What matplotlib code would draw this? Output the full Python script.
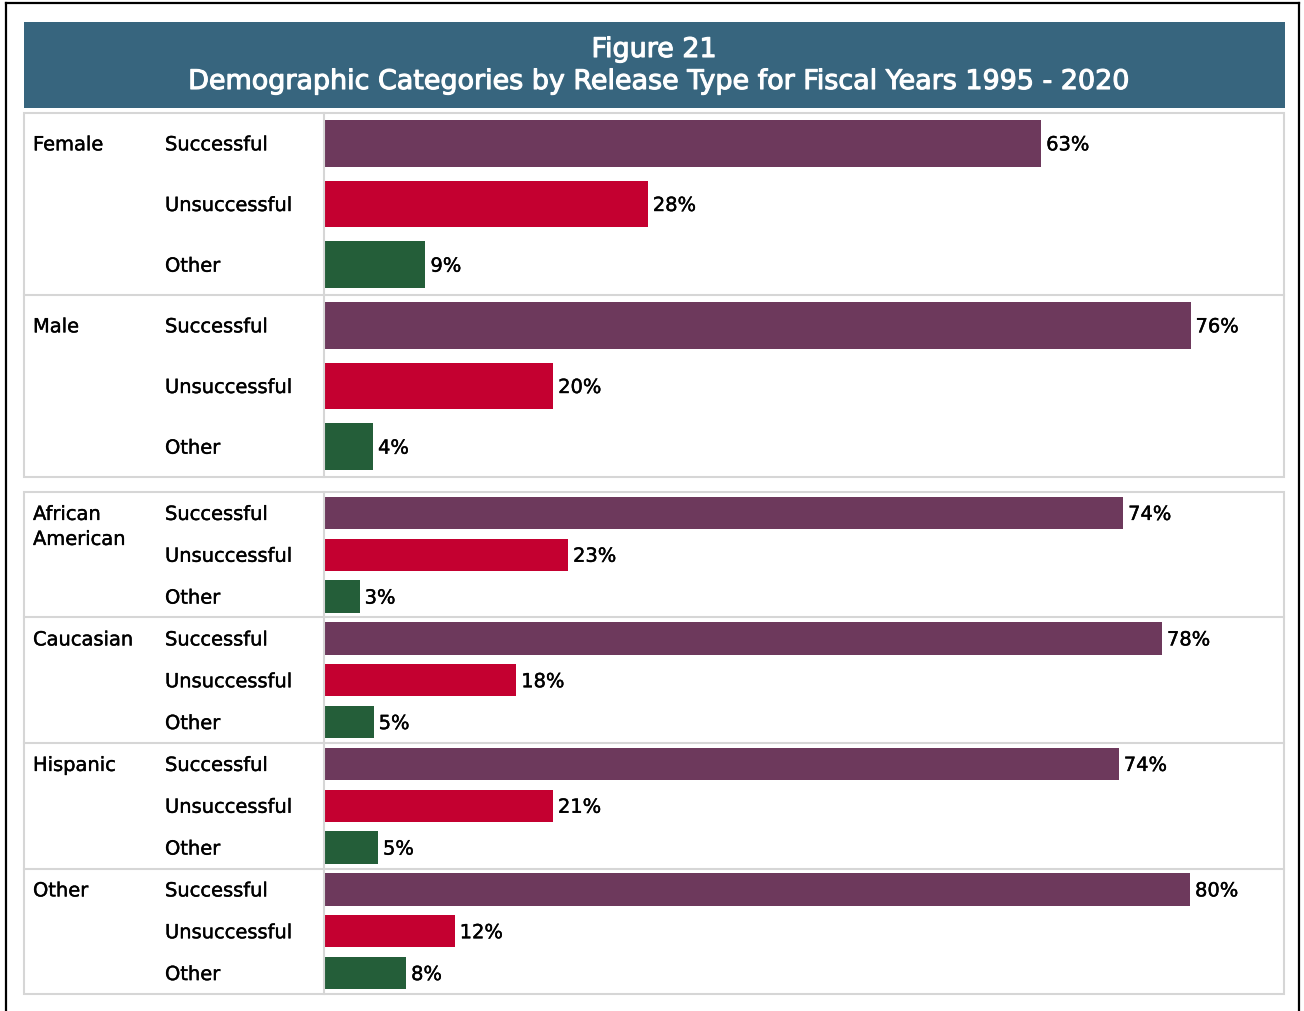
import matplotlib
matplotlib.use("Agg")
import matplotlib.pyplot as plt
import matplotlib.patheffects as pe
from matplotlib.patches import Rectangle
from matplotlib.lines import Line2D

plt.rcParams['font.family'] = ['DejaVu Sans']

title_lines = ["Figure 21", "Demographic Categories by Release Type for Fiscal Years 1995 - 2020"]
release_types = ["Successful", "Unsuccessful", "Other"]
colors = ["#6D395C", "#C40030", "#245E39"]

sex_groups = ["Female", "Male"]
sex_values = [[62.9, 28.4, 8.9],
              [76.0, 20.1, 4.3]]

race_groups = ["African\nAmerican", "Caucasian", "Hispanic", "Other"]
race_values = [[74.0, 22.6, 3.3],
               [77.6, 17.8, 4.6],
               [73.6, 21.2, 5.0],
               [80.2, 12.1, 7.6]]

W, H = 1304, 1011
fig = plt.figure(figsize=(W / 100, H / 100), dpi=100)
fig.patch.set_facecolor("white")

def fx(px):
    return px / W

def fy(py):
    return 1 - py / H

# outer black frame (left, top, right)
for xs, ys in [([6, 6], [3, H + 5]), ([6, 1299], [3, 3]), ([1299, 1299], [3, H + 5])]:
    fig.add_artist(Line2D([fx(x) for x in xs], [fy(y) for y in ys], color="black", lw=1.6))

# header banner
fig.add_artist(Rectangle((fx(24), fy(108)), fx(1285) - fx(24), fy(22) - fy(108),
                         transform=fig.transFigure, facecolor="#37657E", edgecolor="none"))
title_fx = [pe.withStroke(linewidth=0.8, foreground="white")]
fig.text(fx(654), fy(50), title_lines[0], color="white", fontsize=19.4, ha="center", va="center",
         path_effects=title_fx)
fig.text(fx(658), fy(82), title_lines[1], color="white", fontsize=19.4, ha="center", va="center",
         path_effects=title_fx)

GRID = "#D6D6D6"
LABEL_FS = 14
txt_fx = [pe.withStroke(linewidth=0.3, foreground="black")]

def panel(top, bottom, groups, values, xmax):
    left, right = 324, 1284
    ax = fig.add_axes([fx(left), fy(bottom), fx(right) - fx(left), fy(top) - fy(bottom)])
    n = len(groups) * len(release_types)
    ax.set_xlim(0, xmax)
    ax.set_ylim(n - 0.5, -0.5)
    ax.set_xticks([]); ax.set_yticks([])
    for s in ["top", "right", "bottom"]:
        ax.spines[s].set_visible(False)
    ax.spines["left"].set_color(GRID)
    ax.spines["left"].set_linewidth(1.5)
    # panel border
    fig.add_artist(Rectangle((fx(24), fy(bottom)), fx(right) - fx(24), fy(top) - fy(bottom),
                             transform=fig.transFigure, facecolor="none", edgecolor=GRID, lw=1.5))
    lab_x = (33 - left) / (right - left)
    sub_x = (165 - left) / (right - left)
    tr = ax.get_yaxis_transform()
    dy = -1.5
    row = 0
    for gi, (g, vals) in enumerate(zip(groups, values)):
        if gi > 0:
            ax.plot([(24 - left) / (right - left), 1], [row - 0.5, row - 0.5], transform=tr,
                    color=GRID, lw=1.5, clip_on=False)
        for li, line in enumerate(g.split("\n")):
            ax.annotate(line, xy=(lab_x, row), xycoords=tr, xytext=(0, dy - 25 * li),
                        textcoords="offset pixels", ha="left", va="center", fontsize=LABEL_FS,
                        path_effects=txt_fx)
        for ri, (rt, v, c) in enumerate(zip(release_types, vals, colors)):
            ax.barh(row, v, height=0.77, color=c)
            ax.annotate(rt, xy=(sub_x, row), xycoords=tr, xytext=(0, dy),
                        textcoords="offset pixels", ha="left", va="center", fontsize=LABEL_FS,
                        path_effects=txt_fx)
            ax.annotate(f"{v:.0f}%", xy=(v, row), xytext=(5, dy), textcoords="offset pixels",
                        ha="left", va="center", fontsize=LABEL_FS, path_effects=txt_fx)
            row += 1
    return ax

panel(113, 477, sex_groups, sex_values, 84.2)
panel(492, 994, race_groups, race_values, 88.9)

fig.savefig("out.png", dpi=100)
